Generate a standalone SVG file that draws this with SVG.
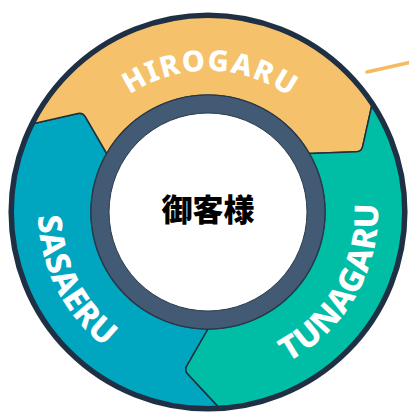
<svg xmlns="http://www.w3.org/2000/svg" width="409" height="412" viewBox="0 0 409 412">
<style>
.seg{stroke:#1f2f40;stroke-width:1.5;stroke-linejoin:round}
.lbl{font-family:"Noto Sans","Open Sans","Liberation Sans",sans-serif;font-weight:800;fill:#ffffff}
.side{font-size:33px;letter-spacing:0.5px}
.top{font-size:29px;letter-spacing:1.5px}
</style>
<defs>
<path id="arcTop" d="M 69.50 185.1 A141 141 0 0 1 347.25 189.94"/>
<path id="arcLeft" d="M 105.69 76.23 A170 170 0 0 0 257.70 374.57"/>
<path id="arcRight" d="M 151.25 372.25 A170 170 0 0 0 316.13 80.82"/>
</defs>
<rect width="409" height="412" fill="#ffffff"/>
<g id="connectors">
<line x1="367" y1="72" x2="412" y2="62" stroke="#f4bb63" stroke-width="3.5" stroke-linecap="round"/>
</g>
<g id="node-sasaeru">
<path class="seg" fill="#00a5c0" d="M 220.03 408.63 A197 197 0 0 1 31.70 124.10 L 77.91 113.52 Q 82.78 112.40 85.29 116.72 L 106.67 153.5 A117 117 0 0 0 208 329 L 186.84 365.90 Q 184.35 370.24 187.75 373.90 Z"/>
<text class="lbl side"><textPath href="#arcLeft" startOffset="50%" text-anchor="middle">SASAERU</textPath></text>
</g>
<g id="node-hirogaru">
<path class="seg" fill="#f5c26b" d="M 31.70 124.10 A197 197 0 0 1 372.28 103.27 L 362.61 146.65 Q 361.52 151.53 356.52 151.72 L 309.33 153.5 A117 117 0 0 0 106.67 153.5 L 85.29 116.72 Q 82.78 112.40 77.91 113.52 Z"/>
<text class="lbl top"><textPath href="#arcTop" startOffset="50%" text-anchor="middle">HIROGARU</textPath></text>
</g>
<g id="node-tunagaru">
<path class="seg" fill="#00bea5" d="M 372.28 103.27 A197 197 0 0 1 220.03 408.63 L 187.75 373.90 Q 184.35 370.24 186.84 365.90 L 208 329 A117 117 0 0 0 309.33 153.5 L 356.52 151.72 Q 361.52 151.53 362.61 146.65 Z"/>
<text class="lbl side"><textPath href="#arcRight" startOffset="50%" text-anchor="middle">TUNAGARU</textPath></text>
</g>
<g id="outer-ring">
<circle cx="208" cy="212" r="196.8" fill="none" stroke="#1f3044" stroke-width="5.5"/>
</g>
<g id="node-center">
<circle cx="208" cy="212" r="117" fill="#435a74" stroke="#2a3a4c" stroke-width="1.2"/>
<circle cx="208" cy="212" r="99" fill="#ffffff" stroke="#2a3a4c" stroke-width="1"/>
<text x="208" y="221" text-anchor="middle" font-family="'Noto Sans CJK JP','Noto Sans CJK SC',sans-serif" font-weight="900" font-size="31" fill="#000000">御客様</text>
</g>
</svg>
